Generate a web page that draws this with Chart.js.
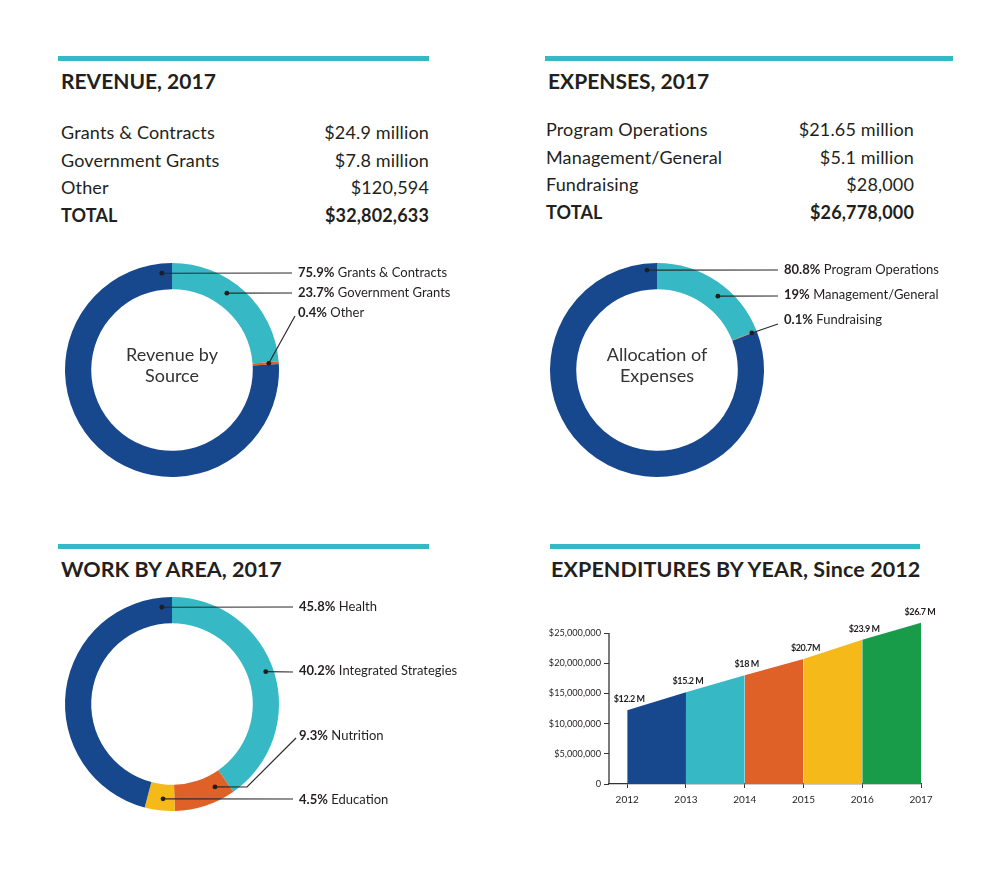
<!DOCTYPE html>
<html>
<head>
<meta charset="utf-8">
<script src="https://cdn.jsdelivr.net/npm/chart.js@4.4.1/dist/chart.umd.min.js"></script>
<style>
  html,body{margin:0;padding:0;background:#fff;}
  body{width:1000px;height:877px;position:relative;overflow:hidden;font-family:Lato,"Open Sans",sans-serif;color:#231f20;}
  .rule{position:absolute;height:5px;background:#36b9c5;}
  .head{position:absolute;font-weight:bold;font-size:21px;line-height:24px;white-space:nowrap;color:#231f20;}
  .tbl{position:absolute;font-size:18px;line-height:27.7px;letter-spacing:0.15px;}
  .row{display:flex;justify-content:space-between;white-space:nowrap;}
  .row.b{font-weight:bold;}
  canvas{position:absolute;}
</style>
</head>
<body>
<div class="rule" style="left:58px;top:56px;width:371px"></div>
<div class="rule" style="left:545px;top:56px;width:408px"></div>
<div class="rule" style="left:58px;top:544px;width:371px"></div>
<div class="rule" style="left:550px;top:544px;width:370px"></div>

<div class="head" style="left:61px;top:69px">REVENUE, 2017</div>
<div class="head" style="left:548px;top:69px">EXPENSES, 2017</div>
<div class="head" style="left:61px;top:557px;font-size:21.5px">WORK BY AREA, 2017</div>
<div class="head" style="left:551px;top:557px;font-size:21.5px;letter-spacing:0.1px">EXPENDITURES BY YEAR, Since 2012</div>

<div class="tbl" id="revTbl" style="left:61px;top:119px;width:368px"></div>
<div class="tbl" id="expTbl" style="left:546px;top:116px;width:368px"></div>

<canvas id="revChart" width="420" height="240" style="left:50px;top:255px"></canvas>
<canvas id="expChart" width="430" height="240" style="left:535px;top:255px"></canvas>
<canvas id="workChart" width="420" height="240" style="left:50px;top:589px"></canvas>
<canvas id="yearChart" width="410" height="225" style="left:540px;top:595px"></canvas>

<script>
// ---------- DATA ----------
const revRowLabels = ['Grants & Contracts', 'Government Grants', 'Other'];
const revRowAmounts = ['$24.9 million', '$7.8 million', '$120,594'];
const revTotal = '$32,802,633';

const expRowLabels = ['Program Operations', 'Management/General', 'Fundraising'];
const expRowAmounts = ['$21.65 million', '$5.1 million', '$28,000'];
const expTotal = '$26,778,000';

const revSliceLabels = ['Government Grants', 'Other', 'Grants & Contracts'];
const revSlicePct = [23.7, 0.4, 75.9];

const expSliceLabels = ['Management/General', 'Fundraising', 'Program Operations'];
const expSlicePct = [19, 0.1, 80.8];

const workSliceLabels = ['Integrated Strategies', 'Nutrition', 'Education', 'Health'];
const workSlicePct = [40.2, 9.3, 4.5, 45.8];

const years = [2012, 2013, 2014, 2015, 2016, 2017];
const spending = [12200000, 15200000, 18000000, 20700000, 23900000, 26700000];
const spendingLabels = ['$12.2 M', '$15.2 M', '$18 M', '$20.7M', '$23.9 M', '$26.7 M'];
const yTickValues = [0, 5000000, 10000000, 15000000, 20000000, 25000000];

// ---------- STYLE ----------
const NAVY = '#17488d', TEAL = '#36b9c5', ORANGE = '#e06127', YELLOW = '#f5b91a', GREEN = '#189c4a';
const FONT = 'Lato, "Open Sans", sans-serif';

function buildTable(id, labels, amounts, total){
  const el = document.getElementById(id);
  labels.forEach((l, i) => {
    const r = document.createElement('div'); r.className = 'row';
    const a = document.createElement('span'); a.textContent = l;
    const b = document.createElement('span'); b.textContent = amounts[i];
    r.appendChild(a); r.appendChild(b); el.appendChild(r);
  });
  const r = document.createElement('div'); r.className = 'row b';
  const a = document.createElement('span'); a.textContent = 'TOTAL';
  const b = document.createElement('span'); b.textContent = total;
  r.appendChild(a); r.appendChild(b); el.appendChild(r);
}
buildTable('revTbl', revRowLabels, revRowAmounts, revTotal);
buildTable('expTbl', expRowLabels, expRowAmounts, expTotal);

function donutAnnot(cfg){
  return {
    id: 'annot',
    afterDraw(chart){
      const ctx = chart.ctx;
      const meta = chart.getDatasetMeta(0);
      const cx = meta.data[0].x, cy = meta.data[0].y;
      const vals = chart.data.datasets[0].data, labs = chart.data.labels;
      ctx.save();
      ctx.fillStyle = '#333';
      ctx.font = '18px ' + FONT;
      ctx.textAlign = 'center'; ctx.textBaseline = 'middle';
      cfg.center.forEach((t, i) => ctx.fillText(t, cx, cy + cfg.centerDy[i]));
      cfg.notes.forEach(n => {
        const p = meta.data[n.index].getProps(['startAngle','endAngle','innerRadius','outerRadius'], true);
        const ang = n.angle != null ? (n.angle - 90) * Math.PI / 180 : (p.startAngle + p.endAngle) / 2;
        const r = p.innerRadius + n.rf * (p.outerRadius - p.innerRadius);
        const dx = cx + r * Math.cos(ang), dy = cy + r * Math.sin(ang);
        ctx.strokeStyle = '#2a2a2a'; ctx.lineWidth = 1.2;
        ctx.beginPath(); ctx.moveTo(dx, dy);
        n.path.forEach(q => ctx.lineTo(cx + q[0], cy + q[1]));
        ctx.stroke();
        ctx.fillStyle = '#1e1e1e';
        ctx.beginPath(); ctx.arc(dx, dy, 2.4, 0, Math.PI * 2); ctx.fill();
        const tx = cx + n.text[0], ty = cy + n.text[1];
        ctx.textAlign = 'left'; ctx.textBaseline = 'middle';
        ctx.fillStyle = '#231f20';
        ctx.font = 'bold 13px ' + FONT;
        const pct = vals[n.index] + '%';
        ctx.fillText(pct, tx, ty);
        const w = ctx.measureText(pct).width + 3.5;
        ctx.font = '13px ' + FONT;
        ctx.fillText(labs[n.index], tx + w, ty);
      });
      ctx.restore();
    }
  };
}

function donut(id, labels, data, colors, pad, annot){
  new Chart(document.getElementById(id), {
    type: 'doughnut',
    data: { labels: labels, datasets: [{ data: data, backgroundColor: colors, borderWidth: 0 }] },
    options: {
      responsive: false, animation: false, cutout: '75.5%',
      layout: { padding: pad },
      plugins: { legend: { display: false }, tooltip: { enabled: false } }
    },
    plugins: [donutAnnot(annot)]
  });
}

donut('revChart', revSliceLabels, revSlicePct, [TEAL, ORANGE, NAVY],
  { left: 15, top: 8, right: 191, bottom: 18 },
  { center: ['Revenue by', 'Source'], centerDy: [-15, 6],
    notes: [
      { index: 2, angle: 354, rf: 0.63, path: [[120, -97]], text: [126, -97] },
      { index: 0, angle: 35.5, rf: 0.52, path: [[120, -77]], text: [126, -77] },
      { index: 1, angle: null, rf: 0.62, path: [[123, -54]], text: [126, -57] }
    ] });

donut('expChart', expSliceLabels, expSlicePct, [TEAL, ORANGE, NAVY],
  { left: 15, top: 8, right: 201, bottom: 18 },
  { center: ['Allocation of', 'Expenses'], centerDy: [-15, 6],
    notes: [
      { index: 2, angle: 354.3, rf: 0.75, path: [[121, -100]], text: [127, -100] },
      { index: 0, angle: 39.5, rf: 0.57, path: [[121, -74]], text: [127, -75] },
      { index: 1, angle: null, rf: 0.8, path: [[121, -46]], text: [127, -50] }
    ] });

donut('workChart', workSliceLabels, workSlicePct, [TEAL, ORANGE, YELLOW, NAVY],
  { left: 15, top: 8, right: 191, bottom: 18 },
  { center: [], centerDy: [],
    notes: [
      { index: 3, angle: 354, rf: 0.63, path: [[121, -97]], text: [127, -97] },
      { index: 0, angle: 71, rf: 0.7, path: [[121, -32]], text: [127, -33] },
      { index: 1, angle: 152.6, rf: 0.48, path: [[75, 83], [124, 34]], text: [127, 32] },
      { index: 2, angle: 185.4, rf: 0.55, path: [[121, 95]], text: [127, 96] }
    ] });

// ---------- AREA CHART ----------
const segColors = [NAVY, TEAL, ORANGE, YELLOW, GREEN];
const yearPlugin = {
  id: 'yearAnnot',
  afterDraw(chart){
    const ctx = chart.ctx;
    const xs = chart.scales.x, ys = chart.scales.y;
    ctx.save();
    ctx.strokeStyle = '#333'; ctx.lineWidth = 1.3;
    ctx.beginPath();
    ctx.moveTo(xs.left, ys.getPixelForValue(0));
    ctx.lineTo(xs.left, ys.getPixelForValue(yTickValues[yTickValues.length - 1]));
    ctx.stroke();
    ctx.fillStyle = '#231f20';
    ctx.font = 'bold 9px ' + FONT;
    if ('letterSpacing' in ctx) ctx.letterSpacing = '-0.4px';
    ctx.textAlign = 'center'; ctx.textBaseline = 'middle';
    const meta = chart.getDatasetMeta(0);
    meta.data.forEach((pt, i) => {
      let x = pt.x;
      if (i === meta.data.length - 1) x -= 3;
      ctx.fillText(spendingLabels[i], x + 2, pt.y - 11);
    });
    ctx.restore();
  }
};

new Chart(document.getElementById('yearChart'), {
  type: 'line',
  data: {
    datasets: [{
      data: years.map((y, i) => ({ x: y, y: spending[i] })),
      fill: 'origin',
      backgroundColor: segColors[0],
      borderWidth: 0,
      borderColor: 'rgba(0,0,0,0)',
      pointRadius: 0,
      tension: 0,
      segment: { backgroundColor: c => segColors[c.p0DataIndex] }
    }]
  },
  options: {
    responsive: false, animation: false,
    layout: { padding: { top: 26, right: 29, left: 0, bottom: 0 } },
    plugins: { legend: { display: false }, tooltip: { enabled: false } },
    scales: {
      x: {
        type: 'linear', min: 2011.69, max: 2017,
        afterBuildTicks(s){ s.ticks = years.map(v => ({ value: v })); },
        afterFit(s){ s.height = 36; },
        ticks: { callback: v => String(v), font: { size: 10, family: FONT }, color: '#231f20', maxRotation: 0, autoSkip: false, padding: 6 },
        grid: { drawOnChartArea: false, drawTicks: true, tickLength: 4, color: '#333' },
        border: { display: true, color: '#333', width: 1.3 }
      },
      y: {
        min: 0, max: 27000000,
        afterBuildTicks(s){ s.ticks = yTickValues.map(v => ({ value: v })); },
        afterFit(s){ s.width = 69; },
        ticks: { callback: v => v === 0 ? '0' : '$' + v.toLocaleString('en-US'), font: { size: 9.2, family: FONT }, color: '#231f20', padding: 3 },
        grid: { drawOnChartArea: false, drawTicks: true, tickLength: 5, color: '#333' },
        border: { display: false }
      }
    }
  },
  plugins: [yearPlugin]
});
</script>
</body>
</html>
